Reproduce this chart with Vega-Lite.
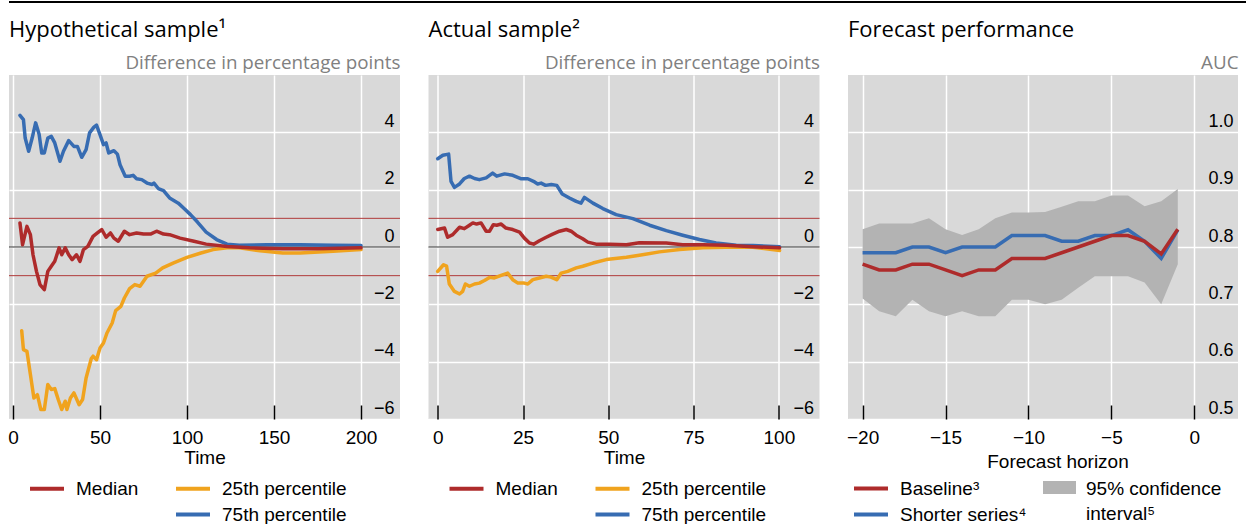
{
  "$schema": "https://vega.github.io/schema/vega-lite/v6.json",
  "background": "white",
  "padding": {"left": 7, "top": 0, "right": 5, "bottom": 0},
  "spacing": 16,
  "config": {
    "font": "Liberation Sans",
    "view": {"fill": "#d9d9d9", "stroke": null},
    "axis": {"labelFont": "Liberation Sans", "labelColor": "#000", "titleColor": "#000", "titleFontWeight": "normal"},
    "legend": {"labelFont": "Liberation Sans", "labelColor": "#000", "labelFontSize": 19, "padding": 0},
    "title": {"font": "Open Sans", "fontSize": 22, "fontWeight": "normal", "color": "#000", "anchor": "start", "frame": "group", "baseline": "alphabetic", "offset": 11}
  },
  "vconcat": [
    {
      "width": 1237,
      "height": 2,
      "view": {"fill": "#000000", "stroke": null},
      "data": {"values": [{}]},
      "mark": {"type": "rule", "opacity": 0},
      "encoding": {}
    },
    {
      "bounds": "flush",
      "spacing": 28.5,
      "resolve": {"scale": {"color": "independent", "fill": "independent", "x": "independent", "y": "independent"}, "legend": {"color": "independent", "fill": "independent"}},
      "hconcat": [
        {
          "width": 391,
          "height": 344,
          "title": {"text": "Hypothetical sample¹"},
          "layer": [
            {
              "data": {"values": [{"v": 1}, {"v": -1}]},
              "mark": {"type": "rule", "color": "#b03a3a", "strokeWidth": 1},
              "encoding": {"y": {"field": "v", "type": "quantitative", "scale": {"domain": [-6, 6], "nice": false, "zero": false}, "axis": {"orient": "right", "values": [-6, -4, -2, 0, 2, 4], "title": "Difference in percentage points", "titleAngle": 0, "titleAlign": "right", "titleBaseline": "alphabetic", "titleX": 0, "titleY": -7, "titleFont": "Open Sans", "titleFontSize": 18.8, "titleColor": "#808080", "labelAlign": "right", "labelBaseline": "alphabetic", "labelPadding": -6, "labelOffset": -6, "labelFontSize": 18, "ticks": false, "domain": false, "grid": true, "gridColor": "#ffffff", "gridWidth": 1.5}}}
            },
            {
              "data": {"values": [{"v": 0}]},
              "mark": {"type": "rule", "color": "#333333", "strokeWidth": 1.2},
              "encoding": {"y": {"field": "v", "type": "quantitative"}}
            },
            {
              "data": {"values": [
                {"s": "25th percentile", "t": 5, "v": -2.92}, {"s": "25th percentile", "t": 6, "v": -3.58}, {"s": "25th percentile", "t": 8, "v": -3.64}, {"s": "25th percentile", "t": 10, "v": -4.45}, {"s": "25th percentile", "t": 12, "v": -5.27}, {"s": "25th percentile", "t": 14, "v": -5.15}, {"s": "25th percentile", "t": 16, "v": -5.67}, {"s": "25th percentile", "t": 18, "v": -5.67}, {"s": "25th percentile", "t": 20, "v": -4.8}, {"s": "25th percentile", "t": 22, "v": -4.97}, {"s": "25th percentile", "t": 24, "v": -4.94}, {"s": "25th percentile", "t": 26, "v": -5.32}, {"s": "25th percentile", "t": 28, "v": -5.67}, {"s": "25th percentile", "t": 30, "v": -5.38}, {"s": "25th percentile", "t": 31, "v": -5.67}, {"s": "25th percentile", "t": 33, "v": -5.27}, {"s": "25th percentile", "t": 35, "v": -5.09}, {"s": "25th percentile", "t": 38, "v": -5.5}, {"s": "25th percentile", "t": 40, "v": -5.32}, {"s": "25th percentile", "t": 42, "v": -4.57}, {"s": "25th percentile", "t": 45, "v": -3.89}, {"s": "25th percentile", "t": 46, "v": -3.81}, {"s": "25th percentile", "t": 48, "v": -3.93}, {"s": "25th percentile", "t": 50, "v": -3.52}, {"s": "25th percentile", "t": 52, "v": -3.35}, {"s": "25th percentile", "t": 54, "v": -3.0}, {"s": "25th percentile", "t": 57, "v": -2.65}, {"s": "25th percentile", "t": 59, "v": -2.22}, {"s": "25th percentile", "t": 62, "v": -2.07}, {"s": "25th percentile", "t": 64, "v": -1.78}, {"s": "25th percentile", "t": 67, "v": -1.45}, {"s": "25th percentile", "t": 70, "v": -1.31}, {"s": "25th percentile", "t": 73, "v": -1.37}, {"s": "25th percentile", "t": 77, "v": -1.02}, {"s": "25th percentile", "t": 82, "v": -0.91}, {"s": "25th percentile", "t": 86, "v": -0.73}, {"s": "25th percentile", "t": 92, "v": -0.56}, {"s": "25th percentile", "t": 100, "v": -0.36}, {"s": "25th percentile", "t": 108, "v": -0.21}, {"s": "25th percentile", "t": 115, "v": -0.09}, {"s": "25th percentile", "t": 123, "v": -0.03}, {"s": "25th percentile", "t": 130, "v": -0.03}, {"s": "25th percentile", "t": 142, "v": -0.13}, {"s": "25th percentile", "t": 155, "v": -0.21}, {"s": "25th percentile", "t": 165, "v": -0.21}, {"s": "25th percentile", "t": 184, "v": -0.15}, {"s": "25th percentile", "t": 200, "v": -0.09},
                {"s": "75th percentile", "t": 4, "v": 4.59}, {"s": "75th percentile", "t": 6, "v": 4.44}, {"s": "75th percentile", "t": 7, "v": 3.8}, {"s": "75th percentile", "t": 9, "v": 3.34}, {"s": "75th percentile", "t": 11, "v": 3.8}, {"s": "75th percentile", "t": 13, "v": 4.33}, {"s": "75th percentile", "t": 15, "v": 3.93}, {"s": "75th percentile", "t": 16.5, "v": 3.28}, {"s": "75th percentile", "t": 18, "v": 3.28}, {"s": "75th percentile", "t": 20, "v": 3.8}, {"s": "75th percentile", "t": 22, "v": 3.86}, {"s": "75th percentile", "t": 24, "v": 3.63}, {"s": "75th percentile", "t": 27, "v": 2.99}, {"s": "75th percentile", "t": 29, "v": 3.34}, {"s": "75th percentile", "t": 32, "v": 3.71}, {"s": "75th percentile", "t": 35, "v": 3.51}, {"s": "75th percentile", "t": 37, "v": 3.51}, {"s": "75th percentile", "t": 39.5, "v": 3.13}, {"s": "75th percentile", "t": 42, "v": 3.4}, {"s": "75th percentile", "t": 44, "v": 3.98}, {"s": "75th percentile", "t": 46.5, "v": 4.18}, {"s": "75th percentile", "t": 48, "v": 4.25}, {"s": "75th percentile", "t": 50, "v": 3.92}, {"s": "75th percentile", "t": 52, "v": 3.57}, {"s": "75th percentile", "t": 53.5, "v": 3.63}, {"s": "75th percentile", "t": 55, "v": 3.28}, {"s": "75th percentile", "t": 58, "v": 3.36}, {"s": "75th percentile", "t": 60, "v": 3.24}, {"s": "75th percentile", "t": 61.5, "v": 2.87}, {"s": "75th percentile", "t": 64.5, "v": 2.47}, {"s": "75th percentile", "t": 67, "v": 2.47}, {"s": "75th percentile", "t": 69, "v": 2.5}, {"s": "75th percentile", "t": 71, "v": 2.38}, {"s": "75th percentile", "t": 74, "v": 2.35}, {"s": "75th percentile", "t": 77, "v": 2.23}, {"s": "75th percentile", "t": 80, "v": 2.18}, {"s": "75th percentile", "t": 81, "v": 2.23}, {"s": "75th percentile", "t": 83.5, "v": 2.04}, {"s": "75th percentile", "t": 86.5, "v": 1.97}, {"s": "75th percentile", "t": 90, "v": 1.71}, {"s": "75th percentile", "t": 95, "v": 1.53}, {"s": "75th percentile", "t": 98, "v": 1.36}, {"s": "75th percentile", "t": 102, "v": 1.13}, {"s": "75th percentile", "t": 106, "v": 0.87}, {"s": "75th percentile", "t": 111, "v": 0.52}, {"s": "75th percentile", "t": 117, "v": 0.26}, {"s": "75th percentile", "t": 123, "v": 0.1}, {"s": "75th percentile", "t": 130, "v": 0.06}, {"s": "75th percentile", "t": 146, "v": 0.08}, {"s": "75th percentile", "t": 165, "v": 0.08}, {"s": "75th percentile", "t": 184, "v": 0.06}, {"s": "75th percentile", "t": 200, "v": 0.05},
                {"s": "Median", "t": 4, "v": 0.84}, {"s": "Median", "t": 5.5, "v": 0.08}, {"s": "Median", "t": 8, "v": 0.72}, {"s": "Median", "t": 10, "v": 0.43}, {"s": "Median", "t": 11.5, "v": -0.27}, {"s": "Median", "t": 13.5, "v": -0.85}, {"s": "Median", "t": 15.5, "v": -1.31}, {"s": "Median", "t": 18, "v": -1.49}, {"s": "Median", "t": 20, "v": -0.85}, {"s": "Median", "t": 22, "v": -0.67}, {"s": "Median", "t": 24, "v": -0.5}, {"s": "Median", "t": 26.5, "v": -0.03}, {"s": "Median", "t": 28, "v": -0.27}, {"s": "Median", "t": 30, "v": -0.03}, {"s": "Median", "t": 32, "v": -0.27}, {"s": "Median", "t": 34, "v": -0.44}, {"s": "Median", "t": 36.5, "v": -0.27}, {"s": "Median", "t": 38.5, "v": -0.5}, {"s": "Median", "t": 40.5, "v": -0.09}, {"s": "Median", "t": 43, "v": 0.02}, {"s": "Median", "t": 46, "v": 0.37}, {"s": "Median", "t": 48.5, "v": 0.49}, {"s": "Median", "t": 51, "v": 0.61}, {"s": "Median", "t": 53.5, "v": 0.34}, {"s": "Median", "t": 56, "v": 0.49}, {"s": "Median", "t": 58, "v": 0.31}, {"s": "Median", "t": 60.5, "v": 0.2}, {"s": "Median", "t": 64, "v": 0.55}, {"s": "Median", "t": 67, "v": 0.43}, {"s": "Median", "t": 71, "v": 0.49}, {"s": "Median", "t": 75, "v": 0.45}, {"s": "Median", "t": 79, "v": 0.45}, {"s": "Median", "t": 82.5, "v": 0.55}, {"s": "Median", "t": 86.5, "v": 0.45}, {"s": "Median", "t": 90, "v": 0.43}, {"s": "Median", "t": 96, "v": 0.31}, {"s": "Median", "t": 104, "v": 0.2}, {"s": "Median", "t": 111, "v": 0.1}, {"s": "Median", "t": 123, "v": 0.02}, {"s": "Median", "t": 136, "v": -0.03}, {"s": "Median", "t": 155, "v": -0.06}, {"s": "Median", "t": 175, "v": -0.06}, {"s": "Median", "t": 200, "v": -0.03}
              ]},
              "mark": {"type": "line", "strokeWidth": 3.5, "strokeJoin": "round", "strokeCap": "round"},
              "encoding": {
                "x": {"field": "t", "type": "quantitative", "scale": {"domain": [-2.3, 222.4], "nice": false, "zero": false}, "axis": {"values": [0, 50, 100, 150, 200], "title": "Time", "titleFont": "Liberation Sans", "titleFontSize": 19, "titleBaseline": "alphabetic", "titleY": 44, "grid": true, "gridColor": "#ffffff", "gridWidth": 1.5, "domain": false, "ticks": true, "tickSize": -14, "tickColor": "#000", "tickWidth": 1.5, "labelPadding": 23, "labelFontSize": 19, "labelFlush": false}},
                "y": {"field": "v", "type": "quantitative"},
                "color": {"field": "s", "type": "nominal", "scale": {"domain": ["Median", "25th percentile", " ", "75th percentile"], "range": ["#ae2b2b", "#f0a31e", "rgba(0,0,0,0)", "#376cb2"]}, "legend": {"orient": "none", "legendX": 27.5, "legendY": 403, "title": null, "columns": 2, "direction": "horizontal", "symbolType": "M-2,0L2,0", "symbolStrokeWidth": 4, "symbolSize": 289, "labelOffset": 18.5, "columnPadding": 29, "rowPadding": 5, "labelFontSize": 19}}
              }
            }
          ]
        },
        {
          "width": 391,
          "height": 344,
          "title": {"text": "Actual sample²"},
          "layer": [
            {
              "data": {"values": [{"v": 1}, {"v": -1}]},
              "mark": {"type": "rule", "color": "#b03a3a", "strokeWidth": 1},
              "encoding": {"y": {"field": "v", "type": "quantitative", "scale": {"domain": [-6, 6], "nice": false, "zero": false}, "axis": {"orient": "right", "values": [-6, -4, -2, 0, 2, 4], "title": "Difference in percentage points", "titleAngle": 0, "titleAlign": "right", "titleBaseline": "alphabetic", "titleX": 0, "titleY": -7, "titleFont": "Open Sans", "titleFontSize": 18.8, "titleColor": "#808080", "labelAlign": "right", "labelBaseline": "alphabetic", "labelPadding": -6, "labelOffset": -6, "labelFontSize": 18, "ticks": false, "domain": false, "grid": true, "gridColor": "#ffffff", "gridWidth": 1.5}}}
            },
            {
              "data": {"values": [{"v": 0}]},
              "mark": {"type": "rule", "color": "#333333", "strokeWidth": 1.2},
              "encoding": {"y": {"field": "v", "type": "quantitative"}}
            },
            {
              "data": {"values": [
                {"s": "25th percentile", "t": 0, "v": -0.85}, {"s": "25th percentile", "t": 1.7, "v": -0.62}, {"s": "25th percentile", "t": 2.6, "v": -0.67}, {"s": "25th percentile", "t": 3.4, "v": -1.29}, {"s": "25th percentile", "t": 4.9, "v": -1.55}, {"s": "25th percentile", "t": 6.4, "v": -1.64}, {"s": "25th percentile", "t": 7.3, "v": -1.55}, {"s": "25th percentile", "t": 8.1, "v": -1.29}, {"s": "25th percentile", "t": 9.3, "v": -1.37}, {"s": "25th percentile", "t": 10.8, "v": -1.29}, {"s": "25th percentile", "t": 12.2, "v": -1.26}, {"s": "25th percentile", "t": 13.7, "v": -1.17}, {"s": "25th percentile", "t": 15.2, "v": -1.06}, {"s": "25th percentile", "t": 16.6, "v": -1.08}, {"s": "25th percentile", "t": 18.6, "v": -0.99}, {"s": "25th percentile", "t": 20.5, "v": -0.91}, {"s": "25th percentile", "t": 22, "v": -1.14}, {"s": "25th percentile", "t": 23.5, "v": -1.26}, {"s": "25th percentile", "t": 25.4, "v": -1.26}, {"s": "25th percentile", "t": 26.4, "v": -1.29}, {"s": "25th percentile", "t": 27.9, "v": -1.14}, {"s": "25th percentile", "t": 29.8, "v": -1.08}, {"s": "25th percentile", "t": 31.8, "v": -1.02}, {"s": "25th percentile", "t": 33.2, "v": -1.05}, {"s": "25th percentile", "t": 34.9, "v": -1.14}, {"s": "25th percentile", "t": 36.2, "v": -0.91}, {"s": "25th percentile", "t": 38.1, "v": -0.85}, {"s": "25th percentile", "t": 40.6, "v": -0.73}, {"s": "25th percentile", "t": 42.5, "v": -0.67}, {"s": "25th percentile", "t": 45.5, "v": -0.56}, {"s": "25th percentile", "t": 49.4, "v": -0.44}, {"s": "25th percentile", "t": 55.3, "v": -0.36}, {"s": "25th percentile", "t": 59.1, "v": -0.29}, {"s": "25th percentile", "t": 65, "v": -0.17}, {"s": "25th percentile", "t": 70.9, "v": -0.09}, {"s": "25th percentile", "t": 77.7, "v": -0.03}, {"s": "25th percentile", "t": 87.5, "v": 0.0}, {"s": "25th percentile", "t": 92.4, "v": -0.01}, {"s": "25th percentile", "t": 100.2, "v": -0.12},
                {"s": "75th percentile", "t": 0, "v": 3.08}, {"s": "75th percentile", "t": 1.5, "v": 3.2}, {"s": "75th percentile", "t": 3.2, "v": 3.24}, {"s": "75th percentile", "t": 3.9, "v": 2.29}, {"s": "75th percentile", "t": 4.9, "v": 2.08}, {"s": "75th percentile", "t": 6.4, "v": 2.2}, {"s": "75th percentile", "t": 7.8, "v": 2.39}, {"s": "75th percentile", "t": 9.3, "v": 2.47}, {"s": "75th percentile", "t": 10.8, "v": 2.39}, {"s": "75th percentile", "t": 12.2, "v": 2.35}, {"s": "75th percentile", "t": 14.2, "v": 2.41}, {"s": "75th percentile", "t": 16.1, "v": 2.58}, {"s": "75th percentile", "t": 17.3, "v": 2.47}, {"s": "75th percentile", "t": 19.6, "v": 2.55}, {"s": "75th percentile", "t": 22, "v": 2.5}, {"s": "75th percentile", "t": 24.5, "v": 2.38}, {"s": "75th percentile", "t": 26.4, "v": 2.38}, {"s": "75th percentile", "t": 28.4, "v": 2.27}, {"s": "75th percentile", "t": 29.3, "v": 2.2}, {"s": "75th percentile", "t": 30.3, "v": 2.23}, {"s": "75th percentile", "t": 31.6, "v": 2.15}, {"s": "75th percentile", "t": 33.3, "v": 2.18}, {"s": "75th percentile", "t": 34.9, "v": 2.15}, {"s": "75th percentile", "t": 36.5, "v": 1.85}, {"s": "75th percentile", "t": 38.6, "v": 1.71}, {"s": "75th percentile", "t": 40.6, "v": 1.59}, {"s": "75th percentile", "t": 42, "v": 1.53}, {"s": "75th percentile", "t": 43, "v": 1.73}, {"s": "75th percentile", "t": 45.5, "v": 1.53}, {"s": "75th percentile", "t": 48.4, "v": 1.34}, {"s": "75th percentile", "t": 52.3, "v": 1.13}, {"s": "75th percentile", "t": 57.2, "v": 0.99}, {"s": "75th percentile", "t": 62.1, "v": 0.76}, {"s": "75th percentile", "t": 67, "v": 0.57}, {"s": "75th percentile", "t": 71.8, "v": 0.41}, {"s": "75th percentile", "t": 76.7, "v": 0.26}, {"s": "75th percentile", "t": 81.6, "v": 0.14}, {"s": "75th percentile", "t": 87.5, "v": 0.06}, {"s": "75th percentile", "t": 92.4, "v": 0.05}, {"s": "75th percentile", "t": 100.2, "v": 0.01},
                {"s": "Median", "t": 0, "v": 0.61}, {"s": "Median", "t": 2, "v": 0.66}, {"s": "Median", "t": 2.9, "v": 0.34}, {"s": "Median", "t": 4.4, "v": 0.43}, {"s": "Median", "t": 6.4, "v": 0.69}, {"s": "Median", "t": 7.8, "v": 0.64}, {"s": "Median", "t": 9.3, "v": 0.76}, {"s": "Median", "t": 10.3, "v": 0.84}, {"s": "Median", "t": 11.4, "v": 0.8}, {"s": "Median", "t": 12.7, "v": 0.84}, {"s": "Median", "t": 14.2, "v": 0.55}, {"s": "Median", "t": 15.2, "v": 0.55}, {"s": "Median", "t": 16.3, "v": 0.78}, {"s": "Median", "t": 17.3, "v": 0.76}, {"s": "Median", "t": 18.6, "v": 0.8}, {"s": "Median", "t": 20, "v": 0.66}, {"s": "Median", "t": 22, "v": 0.61}, {"s": "Median", "t": 24, "v": 0.52}, {"s": "Median", "t": 25.4, "v": 0.31}, {"s": "Median", "t": 26.9, "v": 0.14}, {"s": "Median", "t": 28.1, "v": 0.1}, {"s": "Median", "t": 29.8, "v": 0.22}, {"s": "Median", "t": 31.8, "v": 0.34}, {"s": "Median", "t": 33.7, "v": 0.45}, {"s": "Median", "t": 35.7, "v": 0.55}, {"s": "Median", "t": 37.7, "v": 0.61}, {"s": "Median", "t": 39.1, "v": 0.55}, {"s": "Median", "t": 40.6, "v": 0.41}, {"s": "Median", "t": 42.5, "v": 0.29}, {"s": "Median", "t": 44, "v": 0.17}, {"s": "Median", "t": 46.4, "v": 0.1}, {"s": "Median", "t": 50.4, "v": 0.1}, {"s": "Median", "t": 55.3, "v": 0.08}, {"s": "Median", "t": 59.1, "v": 0.15}, {"s": "Median", "t": 67, "v": 0.14}, {"s": "Median", "t": 71.8, "v": 0.08}, {"s": "Median", "t": 77.7, "v": 0.08}, {"s": "Median", "t": 84.6, "v": 0.06}, {"s": "Median", "t": 92.4, "v": 0.01}, {"s": "Median", "t": 100.2, "v": -0.03}
              ]},
              "mark": {"type": "line", "strokeWidth": 3.5, "strokeJoin": "round", "strokeCap": "round"},
              "encoding": {
                "x": {"field": "t", "type": "quantitative", "scale": {"domain": [-2.7, 111.9], "nice": false, "zero": false}, "axis": {"values": [0, 25, 50, 75, 100], "title": "Time", "titleFont": "Liberation Sans", "titleFontSize": 19, "titleBaseline": "alphabetic", "titleY": 44, "grid": true, "gridColor": "#ffffff", "gridWidth": 1.5, "domain": false, "ticks": true, "tickSize": -14, "tickColor": "#000", "tickWidth": 1.5, "labelPadding": 23, "labelFontSize": 19, "labelFlush": false}},
                "y": {"field": "v", "type": "quantitative"},
                "color": {"field": "s", "type": "nominal", "scale": {"domain": ["Median", "25th percentile", " ", "75th percentile"], "range": ["#ae2b2b", "#f0a31e", "rgba(0,0,0,0)", "#376cb2"]}, "legend": {"orient": "none", "legendX": 27.5, "legendY": 403, "title": null, "columns": 2, "direction": "horizontal", "symbolType": "M-2,0L2,0", "symbolStrokeWidth": 4, "symbolSize": 289, "labelOffset": 18.5, "columnPadding": 29, "rowPadding": 5, "labelFontSize": 19}}
              }
            }
          ]
        },
        {
          "width": 390,
          "height": 344,
          "title": {"text": "Forecast performance"},
          "layer": [
            {
              "data": {"values": [
                {"h": -20, "lo": 0.71, "hi": 0.831, "b": "95% confidence|interval⁵"}, {"h": -19, "lo": 0.688, "hi": 0.841, "b": "95% confidence|interval⁵"}, {"h": -18, "lo": 0.679, "hi": 0.841, "b": "95% confidence|interval⁵"}, {"h": -17, "lo": 0.708, "hi": 0.841, "b": "95% confidence|interval⁵"}, {"h": -16, "lo": 0.688, "hi": 0.85, "b": "95% confidence|interval⁵"}, {"h": -15, "lo": 0.679, "hi": 0.831, "b": "95% confidence|interval⁵"}, {"h": -14, "lo": 0.688, "hi": 0.821, "b": "95% confidence|interval⁵"}, {"h": -13, "lo": 0.679, "hi": 0.831, "b": "95% confidence|interval⁵"}, {"h": -12, "lo": 0.679, "hi": 0.85, "b": "95% confidence|interval⁵"}, {"h": -11, "lo": 0.708, "hi": 0.86, "b": "95% confidence|interval⁵"}, {"h": -10, "lo": 0.708, "hi": 0.86, "b": "95% confidence|interval⁵"}, {"h": -9, "lo": 0.7, "hi": 0.861, "b": "95% confidence|interval⁵"}, {"h": -8, "lo": 0.708, "hi": 0.87, "b": "95% confidence|interval⁵"}, {"h": -7, "lo": 0.729, "hi": 0.88, "b": "95% confidence|interval⁵"}, {"h": -6, "lo": 0.749, "hi": 0.88, "b": "95% confidence|interval⁵"}, {"h": -5, "lo": 0.749, "hi": 0.89, "b": "95% confidence|interval⁵"}, {"h": -4, "lo": 0.749, "hi": 0.89, "b": "95% confidence|interval⁵"}, {"h": -3, "lo": 0.738, "hi": 0.871, "b": "95% confidence|interval⁵"}, {"h": -2, "lo": 0.7, "hi": 0.88, "b": "95% confidence|interval⁵"}, {"h": -1, "lo": 0.77, "hi": 0.901, "b": "95% confidence|interval⁵"}
              ]},
              "mark": {"type": "area", "opacity": 1},
              "encoding": {
                "x": {"field": "h", "type": "quantitative", "scale": {"domain": [-20.88, 2.63], "nice": false, "zero": false}, "axis": {"values": [-20, -15, -10, -5, 0], "title": "Forecast horizon", "titleFont": "Liberation Sans", "titleFontSize": 19, "titleBaseline": "alphabetic", "titleY": 48, "titleX": 209.5, "grid": true, "gridColor": "#ffffff", "gridWidth": 1.5, "domain": false, "ticks": true, "tickSize": -14, "tickColor": "#000", "tickWidth": 1.5, "labelPadding": 23, "labelFontSize": 19, "labelFlush": false}},
                "y": {"field": "lo", "type": "quantitative", "scale": {"domain": [0.5, 1.1], "nice": false, "zero": false}, "axis": {"orient": "right", "values": [0.5, 0.6, 0.7, 0.8, 0.9, 1.0], "format": ".1f", "title": "AUC", "titleAngle": 0, "titleAlign": "right", "titleBaseline": "alphabetic", "titleX": 0, "titleY": -7, "titleFont": "Open Sans", "titleFontSize": 18.8, "titleColor": "#808080", "labelAlign": "right", "labelBaseline": "alphabetic", "labelPadding": -5, "labelOffset": -6, "labelFontSize": 18, "ticks": false, "domain": false, "grid": true, "gridColor": "#ffffff", "gridWidth": 1.5}},
                "y2": {"field": "hi"},
                "fill": {"field": "b", "type": "nominal", "scale": {"range": ["#b3b3b3"]}, "legend": {"orient": "none", "legendX": 195, "legendY": 396, "title": null, "symbolType": "M-1,-0.4L1,-0.4L1,0.4L-1,0.4Z", "symbolSize": 1089, "symbolStrokeWidth": 0, "symbolOpacity": 1, "labelOffset": 10, "labelFontSize": 19, "labelBaseline": "top", "labelExpr": "split(datum.label, '|')", "encode": {"labels": {"update": {"lineHeight": {"value": 25}, "dy": {"value": -8}}}}}}
              }
            },
            {
              "data": {"values": [
                {"s": "Shorter series⁴", "h": -20, "v": 0.79}, {"s": "Shorter series⁴", "h": -19, "v": 0.79}, {"s": "Shorter series⁴", "h": -18, "v": 0.79}, {"s": "Shorter series⁴", "h": -17, "v": 0.8}, {"s": "Shorter series⁴", "h": -16, "v": 0.8}, {"s": "Shorter series⁴", "h": -15, "v": 0.79}, {"s": "Shorter series⁴", "h": -14, "v": 0.8}, {"s": "Shorter series⁴", "h": -13, "v": 0.8}, {"s": "Shorter series⁴", "h": -12, "v": 0.8}, {"s": "Shorter series⁴", "h": -11, "v": 0.82}, {"s": "Shorter series⁴", "h": -10, "v": 0.82}, {"s": "Shorter series⁴", "h": -9, "v": 0.82}, {"s": "Shorter series⁴", "h": -8, "v": 0.81}, {"s": "Shorter series⁴", "h": -7, "v": 0.81}, {"s": "Shorter series⁴", "h": -6, "v": 0.82}, {"s": "Shorter series⁴", "h": -5, "v": 0.82}, {"s": "Shorter series⁴", "h": -4, "v": 0.83}, {"s": "Shorter series⁴", "h": -3, "v": 0.81}, {"s": "Shorter series⁴", "h": -2, "v": 0.78}, {"s": "Shorter series⁴", "h": -1, "v": 0.83},
                {"s": "Baseline³", "h": -20, "v": 0.77}, {"s": "Baseline³", "h": -19, "v": 0.76}, {"s": "Baseline³", "h": -18, "v": 0.76}, {"s": "Baseline³", "h": -17, "v": 0.77}, {"s": "Baseline³", "h": -16, "v": 0.77}, {"s": "Baseline³", "h": -15, "v": 0.76}, {"s": "Baseline³", "h": -14, "v": 0.75}, {"s": "Baseline³", "h": -13, "v": 0.76}, {"s": "Baseline³", "h": -12, "v": 0.76}, {"s": "Baseline³", "h": -11, "v": 0.78}, {"s": "Baseline³", "h": -10, "v": 0.78}, {"s": "Baseline³", "h": -9, "v": 0.78}, {"s": "Baseline³", "h": -8, "v": 0.79}, {"s": "Baseline³", "h": -7, "v": 0.8}, {"s": "Baseline³", "h": -6, "v": 0.81}, {"s": "Baseline³", "h": -5, "v": 0.82}, {"s": "Baseline³", "h": -4, "v": 0.82}, {"s": "Baseline³", "h": -3, "v": 0.81}, {"s": "Baseline³", "h": -2, "v": 0.788}, {"s": "Baseline³", "h": -1, "v": 0.831}
              ]},
              "mark": {"type": "line", "strokeWidth": 3.5, "strokeJoin": "miter"},
              "encoding": {
                "x": {"field": "h", "type": "quantitative"},
                "y": {"field": "v", "type": "quantitative"},
                "color": {"field": "s", "type": "nominal", "scale": {"domain": ["Baseline³", "Shorter series⁴"], "range": ["#ae2b2b", "#376cb2"]}, "legend": {"orient": "none", "legendX": 12.5, "legendY": 403, "title": null, "direction": "vertical", "symbolType": "M-2,0L2,0", "symbolStrokeWidth": 4, "symbolSize": 289, "labelOffset": 18.5, "rowPadding": 5, "labelFontSize": 19}}
              }
            }
          ]
        }
      ]
    }
  ]
}
